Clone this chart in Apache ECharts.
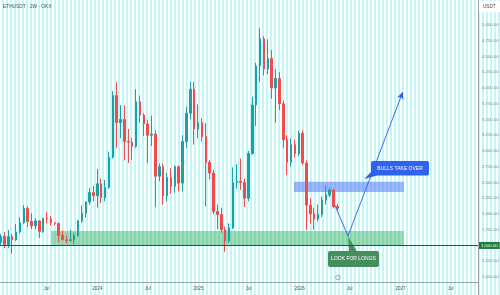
<!DOCTYPE html>
<html><head><meta charset="utf-8">
<script src="https://cdn.jsdelivr.net/npm/echarts@6/dist/echarts.min.js"></script>
<style>
html,body{margin:0;padding:0;}
#c{width:500px;height:295px;background:repeating-linear-gradient(90deg,#ffffff 0px,#ffffff 2px,#c6f5f7 2px,#c6f5f7 4px);}
</style>
</head><body><div id="c"></div>
<script>
// ---------- data ----------
const candleDates = [
'2023-01-16','2023-01-30','2023-02-13','2023-02-27','2023-03-13','2023-03-27','2023-04-10','2023-04-24','2023-05-08','2023-05-22',
'2023-06-05','2023-06-19','2023-07-03','2023-07-17','2023-07-31','2023-08-14','2023-08-28','2023-09-11','2023-09-25','2023-10-09',
'2023-10-23','2023-11-06','2023-11-20','2023-12-04','2023-12-18','2024-01-01','2024-01-15','2024-01-29','2024-02-12','2024-02-26',
'2024-03-11','2024-03-25','2024-04-08','2024-04-22','2024-05-06','2024-05-20','2024-06-03','2024-06-17','2024-07-01','2024-07-15',
'2024-07-29','2024-08-12','2024-08-26','2024-09-09','2024-09-23','2024-10-07','2024-10-21','2024-11-04','2024-11-18','2024-12-02',
'2024-12-16','2024-12-30','2025-01-13','2025-01-27','2025-02-10','2025-02-24','2025-03-10','2025-03-24','2025-04-07','2025-04-21',
'2025-05-05','2025-05-19','2025-06-02','2025-06-16','2025-06-30','2025-07-14','2025-07-28','2025-08-11','2025-08-25','2025-09-08',
'2025-09-22','2025-10-06','2025-10-20','2025-11-03','2025-11-17','2025-12-01','2025-12-15','2025-12-29','2026-01-12','2026-01-26',
'2026-02-09','2026-02-23','2026-03-09','2026-03-23','2026-04-06','2026-04-20','2026-05-04','2026-05-18'];
const opens = [
1550,1645,1515,1640,1590,1715,1860,2090,1880,1810,
1890,1720,1930,1920,1860,1850,1660,1590,1580,1590,
1660,1890,2010,2190,2340,2290,2480,2260,2420,2900,
3880,3450,3500,3150,3140,3070,3780,3570,3430,3250,
3270,2600,2750,2290,2580,2440,2750,2490,3150,3600,
3980,3350,3450,3230,2820,2650,2040,1990,1750,1570,
1780,2500,2520,2500,2250,2960,3730,4350,4780,4300,
4470,4000,4150,3750,3180,2820,3100,2960,3280,2810,
2140,2000,1920,1990,2220,2300,2380,2120];
const closes = [
1645,1515,1640,1590,1715,1860,2090,1880,1810,1890,
1720,1930,1920,1860,1850,1660,1590,1580,1590,1660,
1890,2010,2190,2340,2290,2480,2260,2420,2900,3880,
3450,3500,3150,3140,3070,3780,3570,3430,3250,3270,
2600,2750,2290,2580,2440,2750,2490,3150,3600,3980,
3350,3450,3230,2820,2650,2040,1990,1750,1570,1780,
2500,2520,2500,2250,2960,3730,4350,4780,4300,4470,
4000,4150,3750,3180,2820,3100,2960,3280,2810,2140,
2000,1920,1990,2220,2300,2380,2120,2094.4];
const lows = [
1500,1460,1460,1370,1570,1690,1840,1790,1760,1760,
1620,1700,1850,1820,1820,1550,1580,1530,1560,1520,
1640,1860,1940,2150,2200,2100,2170,2200,2400,2880,
3050,3200,2850,2810,2860,3050,3450,3240,2810,3080,
2110,2520,2150,2200,2320,2340,2360,2360,3050,3500,
3100,3200,3150,2120,2550,2000,1760,1700,1400,1540,
1760,2400,2380,2110,2200,2940,3400,4100,4200,4220,
3830,3450,3650,3050,2620,2750,2900,2920,2780,1750,
1850,1750,1880,1950,2150,2270,2090,2060];
const highs = [
1680,1715,1745,1680,1840,1945,2140,2120,2010,1930,
1900,1940,2030,1970,1870,1860,1740,1660,1750,1700,
1900,2135,2200,2410,2445,2715,2560,2540,2990,3950,
4090,3730,3720,3350,3210,3980,3880,3600,3490,3560,
3330,2800,2800,2650,2730,2770,2770,3250,3700,4100,
4100,3740,3520,3440,2860,2700,2150,2100,1800,1850,
2740,2790,2880,2560,3000,3860,4400,4950,4820,4770,
4600,4300,4250,3800,3250,3200,3180,3320,3330,2850,
2250,2100,2150,2280,2450,2420,2400,2160];

const yTickValues = [1000,1250,1500,1750,2000,2250,2500,2750,3000,3250,3500,3750,4000,4250,4500,4750,5000];
const xTickDates = ['2023-07-01','2024-01-01','2024-07-01','2025-01-01','2025-07-01','2026-01-01','2026-07-01','2027-01-01','2027-07-01'];
const xTickLabels = ['Jul','2024','Jul','2025','Jul','2026','Jul','2027','Jul'];

const supportZone = [1500, 1730];
const supportZoneDates = ['2023-07-18', '2027-01-13'];
const resistanceZone = [2350, 2510];
const resistanceZoneDates = ['2025-12-12', '2027-01-13'];
const keyLevel = 1500;
const lastPrice = 2094.40;
const projectionDates = ['2026-05-08', '2026-06-25', '2027-01-09'];
const projectionValues = [2143, 1651, 3936];
const calloutTexts = ['BULLS TAKE OVER', 'LOOK FOR LONGS'];
const calloutDates = ['2026-08-22', '2026-06-25'];
const calloutValues = [2555, 1651];
const titleText = 'ETHUSDT · 2W · OKX';
const currencyText = 'USDT';

// ---------- helpers ----------
function t(s){const p=s.split('-').map(Number);return Date.UTC(p[0],p[1]-1,p[2]);}
function fmt(v){return v.toLocaleString('en-US',{minimumFractionDigits:2,maximumFractionDigits:2});}
const xTickValues = xTickDates.map(t);
const candleData = candleDates.map((d,i)=>[t(d), opens[i], closes[i], lows[i], highs[i]]);

const UP='#1f9fa6', DOWN='#ee4d50';
const chart = echarts.init(document.getElementById('c'), null, {renderer:'canvas'});
const FONT='Liberation Sans';
chart.setOption({
  animation:false,
  backgroundColor:'transparent',
  textStyle:{fontFamily:FONT},
  grid:{left:0,right:22,top:0,bottom:13,containLabel:false,outerBoundsMode:'none'},
  xAxis:{
    type:'value', min:t('2023-01-14'), max:t('2027-10-08'), scale:true,
    axisLine:{show:true,onZero:false,lineStyle:{color:'#9aa0ac',width:1}},
    axisTick:{show:false}, splitLine:{show:false},
    axisLabel:{customValues:xTickValues, fontSize:4.6, color:'#50535e', margin:4, hideOverlap:false,
      formatter:function(v){let best=0,bd=Infinity;xTickValues.forEach((x,i)=>{const d=Math.abs(x-v);if(d<bd){bd=d;best=i;}});return xTickLabels[best];}}
  },
  yAxis:{
    type:'value', position:'right', min:920, max:5397, scale:true,
    axisLine:{show:true,onZero:false,lineStyle:{color:'#9aa0ac',width:1}},
    axisTick:{show:false}, splitLine:{show:false},
    axisLabel:{customValues:yTickValues, fontSize:4.3, color:'#7d8290', margin:4, formatter:function(v){return fmt(v);}}
  },
  series:[{
    type:'candlestick', name:'ETHUSDT', data:candleData, encode:{x:0,y:[1,2,3,4]},
    barWidth:2, 
    itemStyle:{color:UP,color0:DOWN,borderColor:UP,borderColor0:DOWN,borderWidth:1},
    markArea:{silent:true, data:[
      [{coord:[t(supportZoneDates[0]),supportZone[0]],itemStyle:{color:'rgba(48,178,92,0.45)'}},{coord:[t(supportZoneDates[1]),supportZone[1]]}],
      [{coord:[t(resistanceZoneDates[0]),resistanceZone[0]],itemStyle:{color:'rgba(58,105,250,0.48)'}},{coord:[t(resistanceZoneDates[1]),resistanceZone[1]]}]
    ]},
    markLine:{silent:true, symbol:['none','none'], animation:false, data:[
      {yAxis:keyLevel, lineStyle:{color:'#25543a',width:1,type:'solid'},
        label:{show:true,position:'end',distance:1,formatter:fmt(keyLevel),backgroundColor:'#1e7d3c',color:'#ffffff',fontSize:4.3,padding:[1.5,2,1.5,2]}},
      {yAxis:lastPrice, lineStyle:{opacity:0},
        label:{show:true,position:'end',distance:1,formatter:fmt(lastPrice),backgroundColor:'#d5d7de',color:'#333640',fontSize:4.3,padding:[1.5,2,1.5,2]}},
      [{coord:[t(projectionDates[0]),projectionValues[0]],symbol:'none',lineStyle:{color:'#2d5bea',width:0.9,type:'solid'},label:{show:false}},
       {coord:[t(projectionDates[1]),projectionValues[1]],symbol:'none'}],
      [{coord:[t(projectionDates[1]),projectionValues[1]],symbol:'none',lineStyle:{color:'#2d5bea',width:0.9,type:'solid'},label:{show:false}},
       {coord:[t(projectionDates[2]),projectionValues[2]],symbol:'arrow',symbolSize:[5,7]}]
    ]}
  }]
});

// ---------- annotations ----------
const pb = chart.convertToPixel({gridIndex:0},[t(calloutDates[0]),calloutValues[0]]);
const pl = chart.convertToPixel({gridIndex:0},[t(calloutDates[1]),calloutValues[1]]);
const BLUE='#2f62ee', GREEN='#468e5e';
chart.setOption({graphic:[
  {type:'text',left:3,top:4,style:{text:titleText,fontSize:4.8,fill:'#4a4f5c',fontFamily:FONT}},
  {type:'rect',shape:{x:479,y:1,width:21,height:11},style:{fill:'#ffffff'}},
  {type:'text',x:483,y:4.5,style:{text:currencyText,fontSize:4.6,fill:'#3b3e48',fontFamily:FONT}},
  {type:'polygon',shape:{points:[[pb[0],pb[1]],[pb[0]+7,pb[1]-7],[pb[0]+13,pb[1]-3.5]]},style:{fill:BLUE}},
  {type:'rect',shape:{x:pb[0]+7,y:pb[1]-18,width:58,height:14.5,r:2},style:{fill:BLUE}},
  {type:'text',x:pb[0]+36,y:pb[1]-10.75,style:{text:calloutTexts[0],fontSize:5,fill:'#ffffff',align:'center',verticalAlign:'middle',fontFamily:FONT}},
  {type:'polygon',shape:{points:[[pl[0],pl[1]],[pl[0]+1,pl[1]+15.5],[pl[0]+9,pl[1]+15.5]]},style:{fill:GREEN}},
  {type:'rect',shape:{x:pl[0]-20,y:pl[1]+15,width:51,height:16,r:2},style:{fill:GREEN}},
  {type:'text',x:pl[0]+5.5,y:pl[1]+23,style:{text:calloutTexts[1],fontSize:5,fill:'#ffffff',align:'center',verticalAlign:'middle',fontFamily:FONT}},
  {type:'circle',shape:{cx:338,cy:277.5,r:2.3},style:{fill:'none',stroke:'#6a6d78',lineWidth:0.6}},
  {type:'line',shape:{x1:478.5,y1:282,x2:478.5,y2:295},style:{stroke:'#9aa0ac',lineWidth:1}}
]});
</script>
</body></html>
